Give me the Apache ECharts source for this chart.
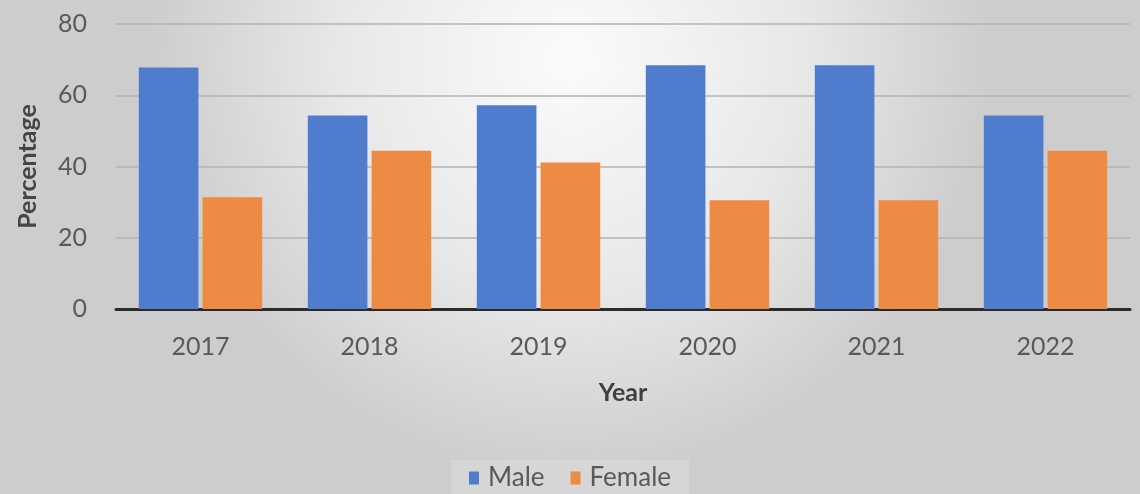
<!DOCTYPE html>
<html>
<head>
<meta charset="utf-8">
<script src="https://cdn.jsdelivr.net/npm/echarts@6/dist/echarts.min.js"></script>
<style>html,body{margin:0;padding:0;}#c{width:1140px;height:494px;}</style>
</head>
<body>
<div id="c"></div>
<script>
const categories = ['2017', '2018', '2019', '2020', '2021', '2022'];
const maleValues = [67.8, 54.3, 57.2, 68.4, 68.4, 54.3];
const femaleValues = [31.4, 44.4, 41.1, 30.5, 30.5, 44.4];
const yTicks = [0, 20, 40, 60, 80];

const font = 'Lato, "Open Sans", sans-serif';
const chart = echarts.init(document.getElementById('c'));
chart.setOption({
  backgroundColor: {
    type: 'radial', x: 0.5, y: 0.12, r: 0.85,
    colorStops: [
      { offset: 0, color: '#fbfbfb' },
      { offset: 0.55, color: '#e8e8e8' },
      { offset: 1, color: '#cdcdcd' }
    ]
  },
  textStyle: { fontFamily: font },
  grid: { left: 116, right: 10, top: 24, bottom: 185 },
  legend: {
    bottom: 0,
    left: 'center',
    icon: 'rect',
    itemWidth: 10,
    itemHeight: 13,
    itemGap: 26,
    padding: [5, 18, 3, 18],
    backgroundColor: 'rgba(255,255,255,0.18)',
    textStyle: { fontSize: 26, color: '#595959', fontFamily: font, padding: [0, 0, 0, 4] },
    data: ['Male', 'Female']
  },
  xAxis: {
    type: 'category',
    data: categories,
    name: 'Year',
    nameLocation: 'middle',
    nameGap: 71,
    nameTextStyle: { fontSize: 25, fontWeight: 'bold', color: '#404040', fontFamily: font },
    axisLine: { lineStyle: { color: '#2b2b2b', width: 3 } },
    axisTick: { show: false },
    axisLabel: { fontSize: 25, color: '#595959', margin: 25 }
  },
  yAxis: {
    type: 'value',
    min: yTicks[0],
    max: yTicks[yTicks.length - 1],
    interval: 20,
    name: 'Percentage',
    nameLocation: 'middle',
    nameGap: 76,
    nameTextStyle: { fontSize: 25, fontWeight: 'bold', color: '#454545', fontFamily: font },
    axisLine: { show: false },
    axisTick: { show: false },
    axisLabel: { fontSize: 25, color: '#595959', margin: 29 },
    splitLine: { lineStyle: { color: '#b3b3b3', width: 1.5 } }
  },
  series: [
    {
      name: 'Male', type: 'bar', data: maleValues,
      itemStyle: { color: '#4f7ccc' },
      barGap: '7%', barCategoryGap: '27%'
    },
    {
      name: 'Female', type: 'bar', data: femaleValues,
      itemStyle: { color: '#ed8a44' }
    }
  ]
});
</script>
</body>
</html>
